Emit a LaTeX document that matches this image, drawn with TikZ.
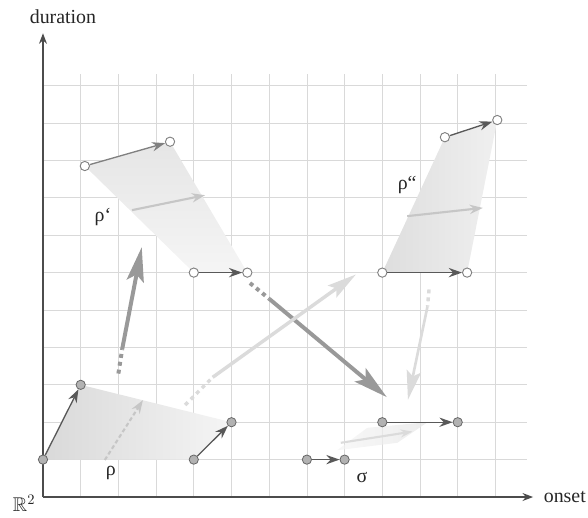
\documentclass[tikz,border=0pt]{standalone}
\usepackage{fontspec}
\setmainfont{Liberation Serif}
\usepackage{amssymb}
\usetikzlibrary{arrows.meta}
\begin{document}
\begin{tikzpicture}[x=1cm,y=0.992cm,
  gridline/.style={draw=gray!30, line width=0.6pt},
  axis/.style={draw=black!70, line width=1pt, -{Stealth[length=8pt,width=6pt]}},
  fdot/.style={circle, draw=black!60, fill=gray!60, line width=0.6pt, minimum size=7pt, inner sep=0pt},
  hdot/.style={circle, draw=black!50, fill=white, line width=0.7pt, minimum size=7pt, inner sep=0pt},
  vec/.style={draw=black!65, line width=1pt, -{Stealth[length=10pt,width=7pt]}},
  midvec/.style={draw=gray!45, line width=1.6pt, -{Stealth[length=10pt,width=7pt]}},
  bigdark/.style={draw=gray!80, line width=3pt, -{Stealth[length=26pt,width=13pt,inset=5pt]}},
  bigdash/.style={draw=gray!80, line width=3pt, dash pattern=on 3pt off 3pt},
  biglight/.style={draw=gray!28, line width=2.6pt, -{Stealth[length=22pt,width=11pt,inset=4pt]}},
  lightdash/.style={draw=gray!28, line width=2.6pt, dash pattern=on 3pt off 3pt},
  lbl/.style={font=\fontsize{15}{18}\selectfont, text=black!85, inner sep=1pt}]
\useasboundingbox (-1.14,-0.561) rectangle (14.456,13.289);
% grid
\foreach \i in {1,...,12} \draw[gridline] (\i,0) -- (\i,11.3);
\foreach \j in {1,...,11} \draw[gridline] (0,\j) -- (12.85,\j);
% points
\coordinate (pA) at (0,1);      \coordinate (pB) at (1,3);
\coordinate (pC) at (4,1);      \coordinate (pD) at (5,2);
\coordinate (pE) at (1.11,8.85); \coordinate (pF) at (3.37,9.5);
\coordinate (pG) at (4,6);      \coordinate (pH) at (5.42,6);
\coordinate (pI) at (9,6);      \coordinate (pJ) at (11.25,6);
\coordinate (pK) at (10.66,9.62); \coordinate (pL) at (12.05,10.08);
\coordinate (pN) at (7,1);      \coordinate (pM) at (8,1);
\coordinate (pO) at (9,2);      \coordinate (pP) at (11,2);
% shaded regions
\shade[left color=gray!30, right color=gray!8] (pA) -- (pB) -- (pD) -- (pC) -- cycle;
\shade[top color=gray!20, bottom color=gray!8] (pE) -- (pF) -- (pH) -- (pG) -- cycle;
\shade[left color=gray!26, right color=gray!12] (pI) -- (pK) -- (pL) -- (pJ) -- cycle;
\shade[left color=gray!8, right color=gray!20, opacity=0.7] (7.8,1.25) -- (8.6,1.85) -- (10.2,2.0) -- (9.4,1.45) -- cycle;
% axes
\coordinate (O) at (0,0);
\coordinate (ytip) at (0,12.4);
\coordinate (xtip) at (13.0,0);
\draw[axis] (O) -- (ytip);
\draw[axis] (O) -- (xtip);
\node[lbl] (dur) at (0.53,12.85) {duration};
\node[lbl, anchor=east] (ons) at (14.44,0) {onset};
\node[lbl] (R2) at (-0.5,-0.18) {$\mathbb{R}^2$};
% middle vectors
\coordinate (m1a) at (1.64,0.99); \coordinate (m1b) at (2.65,2.59);
\draw[midvec, dash pattern=on 3pt off 2pt] (m1a) -- (m1b);
\coordinate (m2a) at (2.36,7.67); \coordinate (m2b) at (4.30,8.07);
\draw[midvec] (m2a) -- (m2b);
\coordinate (m3a) at (9.66,7.51); \coordinate (m3b) at (11.67,7.73);
\draw[midvec] (m3a) -- (m3b);
\coordinate (m4a) at (7.9,1.45); \coordinate (m4b) at (9.8,1.75);
\draw[draw=gray!28, line width=1.6pt, -{Stealth[length=9pt,width=6pt]}] (m4a) -- (m4b);
% big transformation arrows
\coordinate (b1s) at (2.0,3.3); \coordinate (b1m) at (2.1,3.95); \coordinate (b1t) at (2.62,6.68);
\draw[bigdash] (b1s) -- (b1m);
\draw[bigdark] (b1m) -- (b1t);
\coordinate (b2s) at (5.49,5.72); \coordinate (b2m) at (6.0,5.3); \coordinate (b2t) at (9.12,2.67);
\draw[bigdash] (b2s) -- (b2m);
\draw[bigdark] (b2m) -- (b2t);
\coordinate (b3s) at (3.77,2.46); \coordinate (b3m) at (4.5,3.2); \coordinate (b3t) at (8.3,5.95);
\draw[lightdash] (b3s) -- (b3m);
\draw[biglight] (b3m) -- (b3t);
\coordinate (b4s) at (10.24,5.55); \coordinate (b4m) at (10.2,5.1); \coordinate (b4t) at (9.68,2.6);
\draw[lightdash] (b4s) -- (b4m);
\draw[biglight, line width=2pt] (b4m) -- (b4t);
% dots
\node[fdot] (A) at (pA) {}; \node[fdot] (B) at (pB) {};
\node[fdot] (C) at (pC) {}; \node[fdot] (D) at (pD) {};
\node[hdot] (E) at (pE) {}; \node[hdot] (F) at (pF) {};
\node[hdot] (G) at (pG) {}; \node[hdot] (H) at (pH) {};
\node[hdot] (I) at (pI) {}; \node[hdot] (J) at (pJ) {};
\node[hdot] (K) at (pK) {}; \node[hdot] (L) at (pL) {};
\node[fdot] (N) at (pN) {}; \node[fdot] (M) at (pM) {};
\node[fdot] (Oa) at (pO) {}; \node[fdot] (P) at (pP) {};
% small vectors
\draw[vec] (A) -- (B);
\draw[vec] (C) -- (D);
\draw[vec, draw=black!50] (E) -- (F);
\draw[vec] (G) -- (H);
\draw[vec] (K) -- (L);
\draw[vec] (I) -- (J);
\draw[vec] (N) -- (M);
\draw[vec] (Oa) -- (P);
% labels
\node[lbl] (rho) at (1.80,0.64) {ρ};
\node[lbl] (rho1) at (1.59,7.49) {ρ‘};
\node[lbl] (rho2) at (9.66,8.34) {ρ“};
\node[lbl] (sig) at (8.46,0.53) {σ};
\end{tikzpicture}
\end{document}
